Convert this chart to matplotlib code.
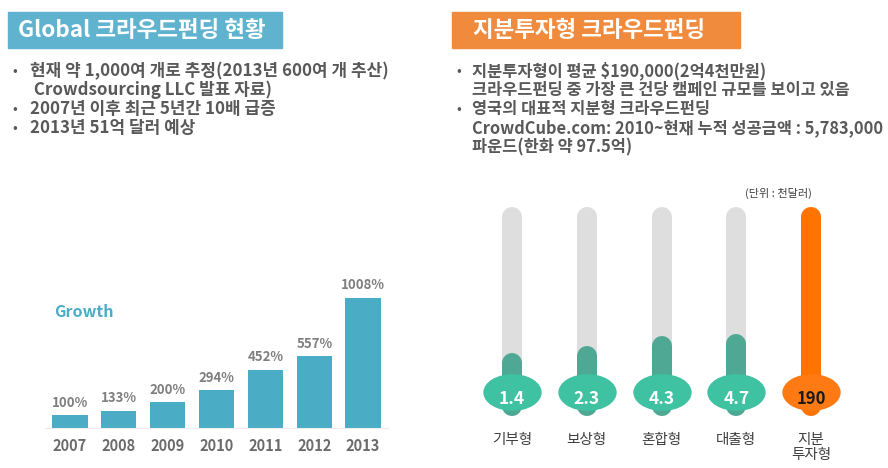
import matplotlib.pyplot as plt
import matplotlib.transforms as mtransforms
import numpy as np
from matplotlib.patches import Rectangle
from matplotlib.path import Path

plt.rcParams["font.family"] = ["Noto Sans CJK KR", "DejaVu Sans"]

# data
years = ["2007", "2008", "2009", "2010", "2011", "2012", "2013"]
growth = [100, 133, 200, 294, 452, 557, 1008]

types = ["기부형", "보상형", "혼합형", "대출형", "지분\n투자형"]
avg_amount = [1.4, 2.3, 4.3, 4.7, 190]
value_labels = ["1.4", "2.3", "4.3", "4.7", "190"]

left_title = "Global 크라우드펀딩 현황"
left_bullets = [
    ("•", "현재 약 1,000여 개로 추정(2013년 600여 개 추산)"),
    ("", " Crowdsourcing LLC 발표 자료)"),
    ("•", "2007년 이후 최근 5년간 10배 급증"),
    ("•", "2013년 51억 달러 예상"),
]
right_title = "지분투자형 크라우드펀딩"
right_bullets = [
    ("•", "지분투자형이 평균 $190,000(2억4천만원)"),
    ("", "크라우드펀딩 중 가장 큰 건당 캠페인 규모를 보이고 있음"),
    ("•", "영국의 대표적 지분형 크라우드펀딩"),
    ("", "CrowdCube.com: 2010~현재 누적 성공금액 : 5,783,000"),
    ("", "파운드(한화 약 97.5억)"),
]

W, H = 888, 468
BLUE = "#4BACC6"
TEXT = "#595959"


def px_rect(x0, y0, x1, y1):
    return [x0 / W, 1 - y1 / H, (x1 - x0) / W, (y1 - y0) / H]


fig = plt.figure(figsize=(W / 100, H / 100), dpi=100)

# background canvas in pixel coordinates
bg = fig.add_axes([0, 0, 1, 1])
bg.set_xlim(0, W)
bg.set_ylim(H, 0)
bg.axis("off")

# title boxes
bg.add_patch(Rectangle((8, 12), 274, 36, color="#5FB3CE"))
bg.text(18, 30.5, left_title, color="white", fontsize=16.2, fontweight="bold",
        va="center", ha="left")
bg.add_patch(Rectangle((452, 12), 288, 36, color="#F08B3E"))
bg.text(473, 30.5, right_title, color="white", fontsize=16.2, fontweight="bold",
        va="center", ha="left")

# bullets
for i, (b, t) in enumerate(left_bullets):
    y = 71 + i * 19
    bg.text(12, y, b, color=TEXT, fontsize=10, va="center")
    bg.text(30, y, t, color=TEXT, fontsize=12.2, fontweight="bold", va="center")
for i, (b, t) in enumerate(right_bullets):
    y = 71 + i * 19
    bg.text(456, y, b, color=TEXT, fontsize=10, va="center")
    bg.text(472, y, t, color=TEXT, fontsize=11.8, fontweight="bold", va="center")

bg.text(778, 193, "(단위 : 천달러)", color="#404040", fontsize=8, ha="center", va="center")
bg.text(54, 312, "Growth", color=BLUE, fontsize=11.5, fontweight="bold", va="center")

# ---- growth bar chart ----
ax = fig.add_axes(px_rect(45, 290, 388, 428))
x = np.arange(len(years))
bars = ax.bar(x, growth, width=0.72, color=BLUE)
ax.set_xlim(-0.51, len(years) - 0.49)
ax.set_ylim(0, 1070)
for rect, v in zip(bars, growth):
    ax.annotate(f"{v}%", (rect.get_x() + rect.get_width() / 2, v),
                xytext=(0, 4), textcoords="offset points", ha="center", va="bottom",
                fontsize=9.5, fontweight="bold", color="#7F7F7F")
ax.set_xticks(x, years)
ax.tick_params(axis="x", length=0, pad=7, labelsize=10.5, labelcolor="#6B6B6B")
for lbl in ax.get_xticklabels():
    lbl.set_fontweight("bold")
ax.set_yticks([])
for s in ["top", "right", "left"]:
    ax.spines[s].set_visible(False)
ax.spines["bottom"].set_color("#EDEDED")
ax.patch.set_alpha(0)

# ---- thermometer chart ----
tx = fig.add_axes(px_rect(474, 200, 849, 406.4))
tx.set_yscale("function", functions=(lambda v: np.power(np.clip(v, 0, None), 0.3),
                                     lambda u: np.power(np.clip(u, 0, None), 1 / 0.3)))
tx.set_ylim(0, 254)
tx.set_xlim(-0.508, len(types) - 0.492)
tx.axis("off")

tube_top = max(avg_amount)
lw = 14.4
ellipse = Path.unit_circle().transformed(mtransforms.Affine2D().scale(1, 0.63))
bulb_trans = mtransforms.offset_copy(tx.transData, fig=fig, y=14.4, units="dots")
text_trans = mtransforms.offset_copy(tx.transData, fig=fig, y=7, units="dots")

for i, v in enumerate(avg_amount):
    hot = v == tube_top
    fill_c = "#FF7300" if hot else "#4FA893"
    bulb_c = "#FF7A12" if hot else "#3EC2A1"
    tx.plot([i, i], [0, tube_top], color="#DEDEDE", lw=lw, solid_capstyle="round",
            zorder=1, clip_on=False)
    tx.plot([i, i], [0, v], color=fill_c, lw=lw, solid_capstyle="round",
            zorder=2, clip_on=False)
    tx.plot([i], [0], marker=ellipse, markersize=42, color=bulb_c, markeredgewidth=0,
            transform=bulb_trans, zorder=3, clip_on=False)
    tx.text(i, 0, value_labels[i], transform=text_trans, ha="center", va="center",
            fontsize=12.5 if not hot else 12, fontweight="bold",
            color="#1A1A1A" if hot else "white", zorder=4)
    tx.annotate(types[i], (i, 0), xytext=(0, -19), textcoords="offset points",
                ha="center", va="top", fontsize=10.5, color="#404040",
                linespacing=1.15, annotation_clip=False)

fig.savefig("out.png", dpi=100)
